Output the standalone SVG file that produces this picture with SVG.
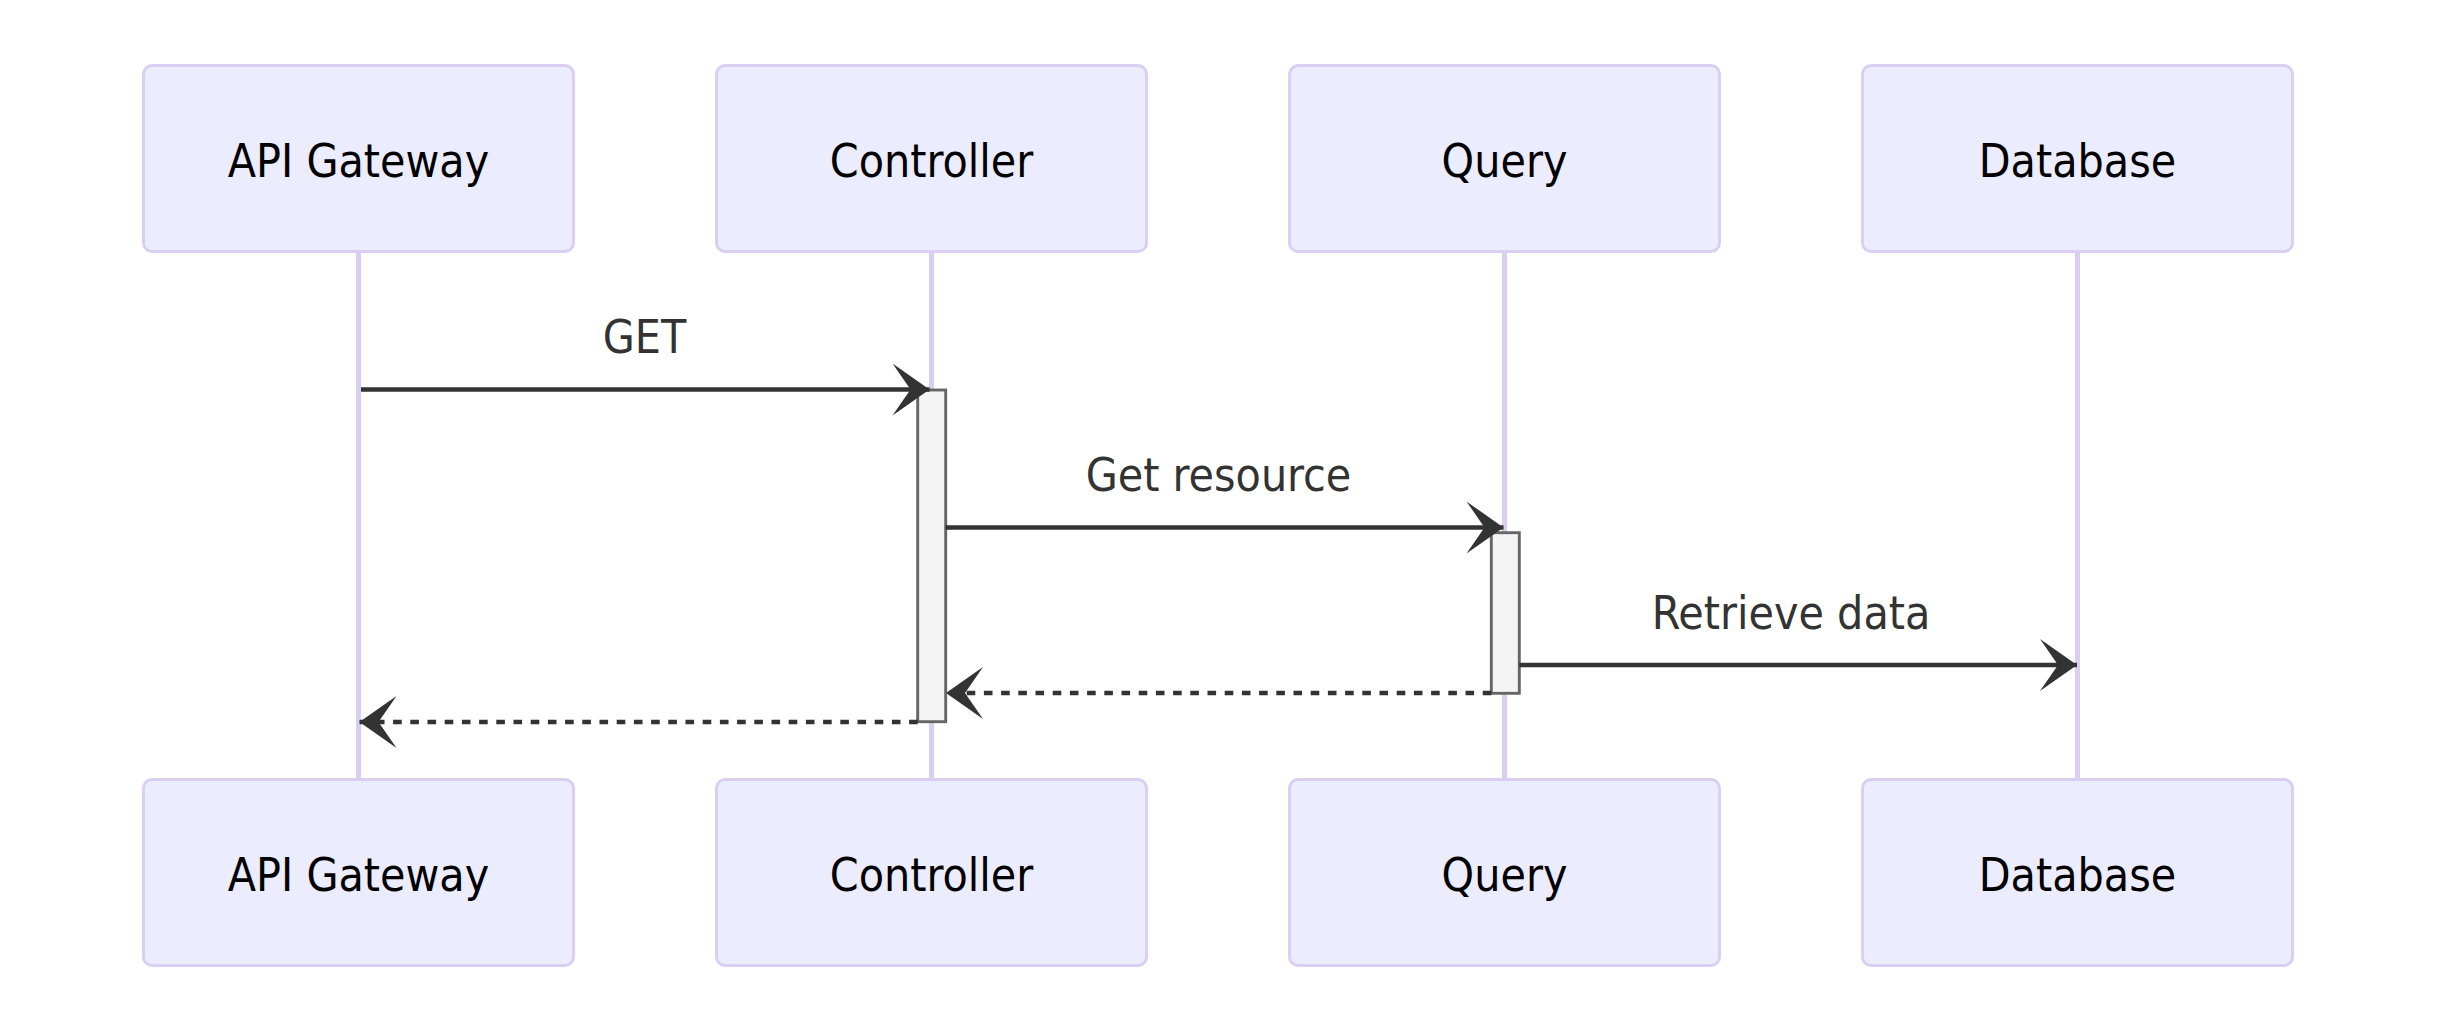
<svg xmlns="http://www.w3.org/2000/svg" width="2437" height="1035" viewBox="0 0 2437 1035">
  <style>
    .actor { fill: #ECECFF; stroke: #dacef3; stroke-width: 2.9; }
    .actor-text { font-family: "DejaVu Sans Condensed", "DejaVu Sans", sans-serif; font-stretch: condensed; font-size: 46px; fill: #000; text-anchor: middle; dominant-baseline: central; }
    .lifeline { stroke: #dacef3; stroke-width: 5; }
    .activation { fill: #f4f4f4; stroke: #666; stroke-width: 2.9; }
    .msg { stroke: #333; stroke-width: 4.3; fill: none; }
    .dotted { stroke-dasharray: 8.6 8.6; }
    .msg-text { font-family: "DejaVu Sans Condensed", "DejaVu Sans", sans-serif; font-stretch: condensed; font-size: 46px; fill: #333; text-anchor: middle; }
  </style>
  <defs>
    <marker id="arrowhead" markerUnits="userSpaceOnUse" viewBox="-40 -30 44 60" markerWidth="44" markerHeight="60" refX="0" refY="0" orient="auto">
      <path d="M -37 -26 L 0 0 L -37 26 L -19 0 Z" fill="#333" stroke="none"/>
    </marker>
  </defs>
  <rect width="2437" height="1035" fill="#ffffff"/>

  <g id="lifelines">
    <line class="lifeline" x1="358.5" y1="251" x2="358.5" y2="779.5"/>
    <line class="lifeline" x1="931.5" y1="251" x2="931.5" y2="779.5"/>
    <line class="lifeline" x1="1504.5" y1="251" x2="1504.5" y2="779.5"/>
    <line class="lifeline" x1="2077.5" y1="251" x2="2077.5" y2="779.5"/>
  </g>

  <g id="actor-api-top">
    <rect class="actor" x="143.5" y="65.5" width="430" height="186" rx="8.6"/>
    <text class="actor-text" x="358.5" y="160.5">API Gateway</text>
  </g>
  <g id="actor-controller-top">
    <rect class="actor" x="716.5" y="65.5" width="430" height="186" rx="8.6"/>
    <text class="actor-text" x="931.5" y="160.5">Controller</text>
  </g>
  <g id="actor-query-top">
    <rect class="actor" x="1289.5" y="65.5" width="430" height="186" rx="8.6"/>
    <text class="actor-text" x="1504.5" y="160.5">Query</text>
  </g>
  <g id="actor-database-top">
    <rect class="actor" x="1862.5" y="65.5" width="430" height="186" rx="8.6"/>
    <text class="actor-text" x="2077.5" y="160.5">Database</text>
  </g>

  <g id="actor-api-bottom">
    <rect class="actor" x="143.5" y="779.5" width="430" height="186" rx="8.6"/>
    <text class="actor-text" x="358.5" y="874.5">API Gateway</text>
  </g>
  <g id="actor-controller-bottom">
    <rect class="actor" x="716.5" y="779.5" width="430" height="186" rx="8.6"/>
    <text class="actor-text" x="931.5" y="874.5">Controller</text>
  </g>
  <g id="actor-query-bottom">
    <rect class="actor" x="1289.5" y="779.5" width="430" height="186" rx="8.6"/>
    <text class="actor-text" x="1504.5" y="874.5">Query</text>
  </g>
  <g id="actor-database-bottom">
    <rect class="actor" x="1862.5" y="779.5" width="430" height="186" rx="8.6"/>
    <text class="actor-text" x="2077.5" y="874.5">Database</text>
  </g>

  <g id="activation-controller">
    <rect class="activation" x="917.7" y="390" width="28" height="331.7"/>
  </g>
  <g id="activation-query">
    <rect class="activation" x="1491.3" y="532.7" width="28" height="160.6"/>
  </g>

  <g id="connectors">
    <line class="msg" x1="361" y1="389.5" x2="929.5" y2="389.5" marker-end="url(#arrowhead)"/>
    <text class="msg-text" x="644.5" y="353">GET</text>

    <line class="msg" x1="945.7" y1="527.5" x2="1503.5" y2="527.5" marker-end="url(#arrowhead)"/>
    <text class="msg-text" x="1218.5" y="491">Get resource</text>

    <line class="msg" x1="1519.3" y1="665" x2="2077" y2="665" marker-end="url(#arrowhead)"/>
    <text class="msg-text" x="1791" y="628.5">Retrieve data</text>

    <line class="msg dotted" x1="1491.3" y1="693" x2="946" y2="693" marker-end="url(#arrowhead)"/>

    <line class="msg dotted" x1="917.7" y1="722" x2="359.5" y2="722" marker-end="url(#arrowhead)"/>
  </g>
</svg>
